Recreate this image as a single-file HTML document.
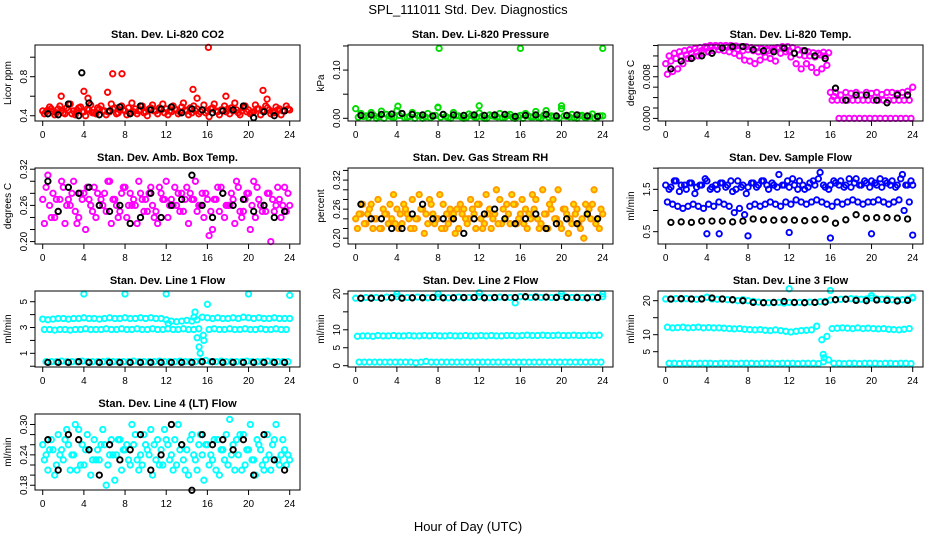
<!DOCTYPE html>
<html><head><meta charset="utf-8"><style>
body{margin:0;background:#fff}
svg{display:block;font-family:"Liberation Sans",sans-serif}
</style></head><body>
<svg id="chart" width="936" height="540" viewBox="0 0 936 540">
<rect width="936" height="540" fill="#fff"/>
<text x="468" y="14" text-anchor="middle" font-size="13">SPL_111011  Std. Dev. Diagnostics</text>
<text x="468" y="531" text-anchor="middle" font-size="13">Hour of Day (UTC)</text>
</svg>
<script>
const co2RedA=[0.45,0.46,0.44,0.47,0.43,0.46,0.45,0.48,0.44,0.46,0.43,0.47,0.45,0.44,0.48,0.46,0.45,0.43,0.47,0.46,0.44,0.48,0.45,0.46,0.47,0.44,0.46,0.49,0.45,0.43,0.47,0.46,0.45,0.48,0.44,0.46,0.47,0.45,0.43,0.48,0.46,0.44,0.47,0.45,0.46,0.43,0.47,0.45,0.46];
const co2RedB=[0.42,0.49,0.41,0.5,0.42,0.52,0.41,0.49,0.4,0.51,0.42,0.5,0.41,0.52,0.42,0.5,0.41,0.53,0.42,0.5,0.4,0.51,0.42,0.52,0.41,0.5,0.42,0.53,0.41,0.5,0.42,0.51,0.39,0.52,0.41,0.5,0.42,0.53,0.41,0.5,0.42,0.51,0.41,0.5,0.42,0.49,0.41,0.5,0.42];
const co2RedC=[0.44,0.47,0.43,0.45,0.48,0.42,0.46,0.44,0.47,0.43,0.48,0.45,0.44,0.47,0.43,0.46,0.48,0.44,0.45,0.43,0.47,0.45,0.48,0.43,0.45,0.47,0.44,0.46,0.48,0.45,0.44,0.43,0.47,0.45,0.46,0.44,0.48,0.46,0.45,0.44,0.43,0.47,0.45,0.48,0.44,0.46,0.45,0.47,0.44];
const co2RedOutX=[1.8,4.0,4.4,6.3,6.8,7.7,14.6,16.1,17.8,21.4,21.8,15];
const co2RedOutY=[0.6,0.65,0.58,0.64,0.83,0.83,0.67,1.1,0.6,0.66,0.57,0.58];
const co2Black=[0.42,0.41,0.52,0.40,0.53,0.41,0.45,0.49,0.42,0.50,0.46,0.47,0.49,0.43,0.47,0.46,0.43,0.45,0.46,0.50,0.38,0.44,0.40,0.45];
const co2BlackOutX=[3.8];const co2BlackOutY=[0.84];

const presGreenA=[0.02,0.01,0.005,0.012,0.0,0.015,0.008,0.003,0.016,0.01,0.002,0.012,0.006,0.0,0.01,0.004,0.022,0.008,0.001,0.012,0.005,0.0,0.009,0.003,0.011,0.0,0.007,0.004,0.01,0.002,0.008,0.0,0.006,0.01,0.003,0.014,0.0,0.016,0.005,0.001,0.02,0.004,0.008,0.0,0.006,0.003,0.009,0.002,0.005];
const presGreenB=[0.002,0.004,0.001,0.006,0.003,0.0,0.005,0.002,0.006,0.001,0.004,0.0,0.005,0.003,0.001,0.006,0.002,0.004,0.0,0.005,0.003,0.001,0.006,0.002,0.004,0.0,0.005,0.003,0.001,0.006,0.002,0.004,0.0,0.005,0.003,0.001,0.006,0.002,0.004,0.0,0.005,0.003,0.001,0.006,0.002,0.004,0.0,0.005,0.003];
const presOutX=[8.1,16,24,4.1,12,20,8];
const presOutY=[0.145,0.145,0.145,0.025,0.026,0.026,0.023];
const presBlack=[0.006,0.007,0.008,0.009,0.01,0.008,0.007,0.005,0.008,0.007,0.006,0.007,0.006,0.007,0.008,0.004,0.006,0.007,0.008,0.005,0.006,0.007,0.005,0.004];

const tempMagA=[0.0105,0.011,0.0115,0.012,0.0122,0.0125,0.0128,0.013,0.0135,0.0138,0.0138,0.0136,0.0137,0.0135,0.0133,0.013,0.0132,0.013,0.0128,0.0127,0.013,0.0132,0.0135,0.0134,0.013,0.0125,0.0122,0.012,0.012,0.0118,0.0122,0.012,0.005,0.005,0.0045,0.005,0.0048,0.005,0.0045,0.005,0.0048,0.005,0.0046,0.005,0.005,0.0048,0.005,0.0052,0.006];
const tempMagB=[0.0085,0.009,0.0095,0.0105,0.0115,0.0118,0.012,0.0125,0.0128,0.013,0.0132,0.013,0.0128,0.0125,0.012,0.0112,0.011,0.0105,0.0112,0.0118,0.0115,0.011,0.0125,0.0128,0.0118,0.0105,0.0095,0.0105,0.0098,0.0088,0.0095,0.0102,0.0035,0.0035,0.0035,0.0035,0.0035,0.0035,0.0035,0.0035,0.0035,0.0035,0.0035,0.0035,0.0035,0.0035,0.0035,0.0035,0.0035];
const tempMagC=[0.012,0.0125,0.0128,0.013,0.0132,0.0134,0.0136,0.0138,0.014,0.014,0.014,0.014,0.014,0.0139,0.0138,0.0138,0.0136,0.0135,0.0134,0.0133,0.0135,0.0136,0.0138,0.0138,0.0136,0.0132,0.013,0.0128,0.0126,0.0125,0.0127,0.0126,0.0042,0,0,0,0,0,0,0,0,0,0,0,0,0,0,0,0];
const tempBlack=[0.0095,0.011,0.0115,0.012,0.0125,0.0135,0.0138,0.0138,0.0132,0.013,0.0128,0.0135,0.0125,0.013,0.012,0.0115,0.0058,0.0035,0.0045,0.0045,0.0035,0.003,0.0045,0.0045];

const ambA=[0.27,0.31,0.28,0.25,0.29,0.27,0.30,0.24,0.28,0.27,0.29,0.26,0.28,0.30,0.27,0.25,0.29,0.28,0.26,0.28,0.27,0.29,0.25,0.28,0.30,0.27,0.26,0.28,0.29,0.27,0.25,0.28,0.27,0.22,0.29,0.28,0.26,0.27,0.29,0.25,0.28,0.30,0.27,0.26,0.28,0.25,0.27,0.29,0.26];
const ambB=[0.23,0.26,0.24,0.27,0.23,0.26,0.25,0.28,0.22,0.26,0.24,0.27,0.25,0.23,0.26,0.28,0.24,0.26,0.23,0.27,0.25,0.26,0.23,0.27,0.24,0.26,0.28,0.25,0.23,0.27,0.26,0.24,0.21,0.27,0.25,0.24,0.26,0.23,0.25,0.27,0.22,0.24,0.26,0.25,0.20,0.26,0.24,0.25,0.26];
const ambC=[0.29,0.24,0.27,0.30,0.26,0.28,0.23,0.27,0.29,0.25,0.28,0.26,0.30,0.27,0.24,0.29,0.26,0.27,0.30,0.25,0.28,0.24,0.29,0.27,0.26,0.29,0.25,0.27,0.28,0.30,0.26,0.28,0.25,0.27,0.29,0.26,0.28,0.30,0.24,0.28,0.26,0.29,0.25,0.28,0.27,0.29,0.26,0.28,0.27];
const ambBlack=[0.30,0.25,0.29,0.28,0.29,0.26,0.25,0.26,0.23,0.24,0.28,0.24,0.26,0.27,0.31,0.26,0.24,0.28,0.26,0.27,0.25,0.26,0.24,0.25];

const rhA=[0.24,0.25,0.23,0.27,0.24,0.22,0.25,0.24,0.26,0.23,0.25,0.28,0.24,0.26,0.23,0.25,0.24,0.27,0.23,0.25,0.22,0.26,0.24,0.25,0.27,0.23,0.26,0.25,0.28,0.24,0.23,0.27,0.25,0.26,0.24,0.28,0.23,0.25,0.26,0.24,0.22,0.25,0.23,0.26,0.24,0.25,0.27,0.24,0.25];
const rhB=[0.22,0.27,0.25,0.22,0.28,0.26,0.23,0.29,0.22,0.27,0.24,0.22,0.29,0.21,0.28,0.23,0.29,0.22,0.26,0.21,0.27,0.24,0.28,0.22,0.24,0.29,0.22,0.30,0.23,0.27,0.29,0.23,0.28,0.22,0.29,0.24,0.30,0.22,0.28,0.30,0.26,0.21,0.27,0.23,0.20,0.26,0.30,0.22,0.27];
const rhC=[0.25,0.23,0.26,0.24,0.22,0.25,0.27,0.23,0.25,0.26,0.22,0.24,0.26,0.25,0.27,0.24,0.22,0.25,0.24,0.26,0.25,0.23,0.26,0.27,0.22,0.25,0.24,0.23,0.26,0.25,0.27,0.24,0.23,0.25,0.26,0.22,0.25,0.27,0.24,0.23,0.26,0.24,0.25,0.22,0.27,0.24,0.23,0.26,0.24];
const rhBlack=[0.27,0.24,0.24,0.22,0.22,0.25,0.27,0.24,0.24,0.24,0.21,0.24,0.25,0.26,0.24,0.23,0.24,0.25,0.22,0.23,0.24,0.23,0.25,0.24];

const sfA=[1.6,1.55,1.7,1.6,1.5,1.65,1.55,1.6,1.7,1.55,1.5,1.65,1.6,1.45,1.7,1.6,1.55,1.65,1.6,1.7,1.5,1.6,1.85,1.6,1.55,1.6,1.7,1.5,1.65,1.6,1.9,1.55,1.6,1.65,1.7,1.6,1.55,1.75,1.6,1.65,1.7,1.6,1.55,1.65,1.7,1.6,1.85,1.6,1.6];
const sfB=[1.2,1.15,1.1,1.05,1.1,1.15,1.1,1.05,1.15,1.1,1.2,1.15,1.1,0.95,1.05,0.9,1.1,1.15,1.1,1.15,1.2,1.15,1.1,1.2,1.15,1.25,1.2,1.15,1.2,1.25,1.2,1.15,1.1,1.2,1.15,1.2,1.25,1.2,1.15,1.2,1.2,1.25,1.2,1.15,1.2,1.25,1.0,1.2,1.15];
const sfC=[1.5,1.7,1.45,1.6,1.65,1.4,1.6,1.75,1.5,1.6,1.65,1.55,1.7,1.5,1.55,1.4,1.65,1.55,1.7,1.6,1.65,1.55,1.6,1.7,1.75,1.5,1.6,1.55,1.7,1.75,1.6,1.5,1.7,1.6,1.55,1.75,1.65,1.6,1.7,1.55,1.65,1.75,1.7,1.6,1.55,1.75,1.6,1.7,1.65];
const sfOutX=[4,5.2,8,12,16,20,24];
const sfOutY=[0.45,0.45,0.4,0.48,0.35,0.45,0.42];
const sfBlack=[0.72,0.73,0.72,0.75,0.75,0.75,0.73,0.75,0.80,0.78,0.77,0.78,0.77,0.76,0.78,0.80,0.70,0.78,0.90,0.82,0.83,0.83,0.82,0.80];

const l1A=[3.65,3.6,3.65,3.7,3.7,3.65,3.7,3.7,3.75,3.7,3.7,3.65,3.7,3.75,3.7,3.7,3.75,3.7,3.7,3.75,3.7,3.75,3.7,3.7,3.6,3.5,3.45,3.5,3.55,3.5,3.6,3.8,3.75,3.7,3.75,3.7,3.7,3.75,3.7,3.8,3.75,3.7,3.75,3.7,3.7,3.75,3.7,3.7,3.7];
const l1B=[2.85,2.85,2.8,2.85,2.85,2.8,2.85,2.85,2.9,2.85,2.85,2.85,2.9,2.85,2.85,2.9,2.85,2.85,2.9,2.85,2.85,2.9,2.85,2.85,2.9,2.85,2.85,2.9,2.85,2.85,2.9,2.0,2.85,2.9,2.85,2.85,2.9,2.85,2.85,2.9,2.85,2.85,2.9,2.85,2.85,2.9,2.85,2.85,2.85];
const l1C=[0.35,0.35,0.35,0.4,0.35,0.35,0.35,0.4,0.35,0.35,0.35,0.35,0.4,0.35,0.35,0.35,0.35,0.4,0.35,0.35,0.35,0.35,0.4,0.35,0.35,0.35,0.4,0.35,0.35,0.35,0.4,0.45,0.35,0.35,0.4,0.35,0.35,0.35,0.35,0.4,0.35,0.35,0.35,0.4,0.35,0.35,0.35,0.35,0.35];
const l1OutX=[4,8,12,20,24,16,14.8,15.2,15.3,15,15.6,12.2,14.7];
const l1OutY=[5.6,5.6,5.6,5.6,5.5,4.8,4.2,1.5,1.0,2.2,2.4,3.3,3.8];
const l1Black=[0.3,0.3,0.3,0.35,0.3,0.3,0.3,0.3,0.3,0.3,0.3,0.3,0.3,0.3,0.3,0.35,0.35,0.3,0.3,0.3,0.3,0.3,0.3,0.3];

const l2A=[18.8,18.7,19.0,18.9,19.0,18.8,19.1,19.0,19.2,18.9,19.0,18.9,19.1,19.0,18.9,19.0,19.1,19.0,18.9,19.0,19.1,18.9,19.0,19.0,19.2,19.0,18.9,19.0,19.1,19.0,19.0,17.5,19.2,19.1,19.0,19.2,19.0,19.1,19.0,19.1,19.3,19.1,19.0,19.1,19.0,19.0,19.1,19.0,19.2];
const l2B=[8.2,8.3,8.3,8.2,8.4,8.3,8.3,8.4,8.3,8.3,8.4,8.3,8.3,8.4,8.3,8.4,8.3,8.3,8.4,8.3,8.3,8.4,8.3,8.3,8.4,8.3,8.4,8.3,8.3,8.4,8.4,8.3,8.4,8.5,8.4,8.4,8.5,8.4,8.4,8.5,8.4,8.4,8.5,8.4,8.4,8.5,8.4,8.5,8.6];
const l2C=[1.0,1.0,1.0,1.0,1.0,1.0,1.0,1.0,1.0,1.0,1.0,0.8,1.0,1.2,1.0,1.0,1.0,1.0,1.0,1.0,1.0,1.0,1.0,1.0,1.0,1.0,1.0,1.0,1.0,1.0,1.0,1.0,1.0,1.0,1.0,1.0,1.0,1.0,1.0,1.0,1.0,1.0,1.0,1.0,1.0,1.0,1.0,1.0,1.0];
const l2OutX=[4,8,12,20,24];
const l2OutY=[20,20,20.3,20,20];
const l2Black=[18.8,18.8,18.8,18.9,18.8,18.9,18.9,19.0,18.9,18.9,19.0,19.0,18.9,19.0,19.0,19.0,19.2,19.1,19.1,19.0,19.0,19.0,18.9,19.0];

const l3A=[20.5,20.4,20.6,20.5,20.6,20.5,20.4,20.6,21.0,20.5,20.4,20.5,20.3,20.2,20.0,20.3,20.0,19.8,19.6,19.5,19.4,19.4,19.5,19.3,19.5,19.4,19.5,19.5,19.6,19.5,19.7,19.8,20.2,20.3,20.4,20.5,20.6,20.5,20.4,20.5,20.8,20.5,20.4,20.5,20.3,20.2,20.3,20.4,20.8];
const l3B=[12.2,12.0,12.1,12.2,12.0,12.1,12.2,12.0,12.1,12.0,12.0,11.9,11.8,11.7,11.8,11.6,11.5,11.4,11.5,11.3,11.2,11.4,11.2,11.0,10.8,11.0,11.2,11.3,11.4,12.5,8.5,9.5,11.8,11.9,12.0,11.9,11.8,12.0,11.8,11.9,11.8,11.7,11.8,11.6,11.5,11.4,11.6,11.8,11.8];
const l3C=[1.6,1.6,1.5,1.6,1.6,1.5,1.6,1.6,1.6,1.5,1.6,1.6,1.6,1.5,1.6,1.6,1.6,1.5,1.6,1.6,1.6,1.5,1.6,1.6,1.6,1.5,1.6,1.6,1.6,1.5,2.0,2.6,1.6,1.6,1.5,1.6,1.6,1.5,1.6,1.6,1.6,1.5,1.6,1.6,1.5,1.6,1.6,1.5,1.6];
const l3OutX=[12,16,20,4,24,15.3,15.4];
const l3OutY=[23.5,23,21.5,21,21,4.2,3.2];
const l3Black=[20.5,20.6,20.5,20.5,20.8,20.5,20.3,20.0,19.5,19.4,19.5,19.8,19.5,19.4,19.5,19.6,20.3,20.4,20.1,20.0,20.2,20.1,19.9,20.1];

const l4A=[0.26,0.21,0.25,0.28,0.23,0.26,0.24,0.29,0.22,0.25,0.27,0.23,0.26,0.24,0.19,0.27,0.25,0.22,0.28,0.24,0.26,0.29,0.23,0.25,0.27,0.24,0.22,0.26,0.25,0.28,0.21,0.24,0.26,0.23,0.27,0.25,0.22,0.26,0.24,0.28,0.25,0.23,0.26,0.21,0.24,0.27,0.22,0.25,0.23];
const l4B=[0.23,0.25,0.20,0.24,0.27,0.21,0.30,0.22,0.25,0.20,0.23,0.26,0.18,0.27,0.24,0.21,0.26,0.30,0.23,0.22,0.25,0.20,0.27,0.22,0.26,0.21,0.30,0.23,0.20,0.24,0.26,0.19,0.22,0.27,0.20,0.23,0.31,0.21,0.28,0.22,0.30,0.20,0.25,0.23,0.21,0.30,0.24,0.22,0.20];
const l4C=[0.24,0.27,0.22,0.25,0.29,0.24,0.21,0.26,0.28,0.23,0.25,0.29,0.22,0.24,0.27,0.25,0.23,0.26,0.21,0.28,0.24,0.26,0.22,0.29,0.23,0.27,0.25,0.21,0.27,0.23,0.28,0.26,0.24,0.21,0.25,0.28,0.24,0.27,0.21,0.25,0.23,0.27,0.22,0.28,0.26,0.23,0.27,0.24,0.26];
const l4Black=[0.27,0.21,0.28,0.27,0.25,0.20,0.26,0.23,0.25,0.28,0.21,0.24,0.30,0.26,0.17,0.28,0.26,0.27,0.25,0.27,0.20,0.28,0.23,0.21];

const xTicks=[0,4,8,12,16,20,24];
const colLeft=[35,348,658], rowTop=[45,168,291,414], boxW=265, boxH=76;
const xMin=-0.75, xMax=25.0;

const panels=[
 {name:'co2',title:'Stan. Dev. Li-820 CO2',ylab:'Licor ppm',c:0,r:0,y:[0.346,1.125],ticks:[0.4,0.6,0.8,1.0],labels:[0.4,0.8],fmt:1,color:'#ff0000',main:[co2RedA,co2RedB,co2RedC],ox:co2RedOutX,oy:co2RedOutY,black:co2Black,bx:co2BlackOutX,by:co2BlackOutY},
 {name:'pressure',title:'Stan. Dev. Li-820 Pressure',ylab:'kPa',c:1,r:0,y:[-0.0056,0.152],ticks:[0,0.05,0.1,0.15],labels:[0,0.1],fmt:2,color:'#00dd00',main:[presGreenA,presGreenB],ox:presOutX,oy:presOutY,black:presBlack},
 {name:'temp',title:'Stan. Dev. Li-820 Temp.',ylab:'degrees C',c:2,r:0,y:[-0.0005,0.0141],ticks:[0,0.002,0.004,0.006,0.008,0.01,0.012,0.014],labels:[0,0.008],fmt:3,color:'#ff00ff',main:[tempMagA,tempMagB,tempMagC],black:tempBlack},
 {name:'amb-box-temp',title:'Stan. Dev. Amb. Box Temp.',ylab:'degrees C',c:0,r:1,y:[0.196,0.322],ticks:[0.2,0.22,0.24,0.26,0.28,0.3,0.32],labels:[0.2,0.26,0.32],fmt:2,color:'#ff00ff',main:[ambA,ambB,ambC],black:ambBlack},
 {name:'gas-rh',title:'Stan. Dev. Gas Stream RH',ylab:'percent',c:1,r:1,y:[0.188,0.345],ticks:[0.2,0.22,0.24,0.26,0.28,0.3,0.32,0.34],labels:[0.2,0.26,0.32],fmt:2,color:'#ff9900',fill:'#ffdd00',main:[rhA,rhB,rhC],black:rhBlack},
 {name:'sample-flow',title:'Stan. Dev. Sample Flow',ylab:'ml/min',c:2,r:1,y:[0.209,2.004],ticks:[0.5,1.0,1.5,2.0],labels:[0.5,1.5],fmt:1,color:'#0000ff',main:[sfA,sfB,sfC],ox:sfOutX,oy:sfOutY,black:sfBlack},
 {name:'line1-flow',title:'Stan. Dev. Line 1 Flow',ylab:'ml/min',c:0,r:2,y:[-0.06,5.83],ticks:[0,1,2,3,4,5],labels:[1,3,5],fmt:0,color:'#00ffff',main:[l1A,l1B,l1C],ox:l1OutX,oy:l1OutY,black:l1Black},
 {name:'line2-flow',title:'Stan. Dev. Line 2 Flow',ylab:'ml/min',c:1,r:2,y:[-0.36,20.8],ticks:[0,5,10,15,20],labels:[0,5,10,20],fmt:0,color:'#00ffff',main:[l2A,l2B,l2C],ox:l2OutX,oy:l2OutY,black:l2Black},
 {name:'line3-flow',title:'Stan. Dev. Line 3 Flow',ylab:'ml/min',c:2,r:2,y:[0.5,22.85],ticks:[5,10,15,20],labels:[5,10,20],fmt:0,color:'#00ffff',main:[l3A,l3B,l3C],ox:l3OutX,oy:l3OutY,black:l3Black},
 {name:'line4-flow',title:'Stan. Dev. Line 4 (LT) Flow',ylab:'ml/min',c:0,r:3,y:[0.1706,0.3207],ticks:[0.18,0.2,0.22,0.24,0.26,0.28,0.3],labels:[0.18,0.24,0.3],fmt:2,color:'#00ffff',main:[l4A,l4B,l4C],black:l4Black}
];

const NS='http://www.w3.org/2000/svg';
const svg=document.getElementById('chart');
function mk(tag,attrs,parent){const e=document.createElementNS(NS,tag);for(const k in attrs)e.setAttribute(k,attrs[k]);parent.appendChild(e);return e;}

panels.forEach(p=>{
  const L=colLeft[p.c], T=rowTop[p.r];
  const sx=v=>L+(v-xMin)/(xMax-xMin)*boxW;
  const sy=v=>T+boxH-(v-p.y[0])/(p.y[1]-p.y[0])*boxH;
  const g=mk('g',{},svg);
  
  
  const t=mk('text',{x:L+boxW/2,y:T-7,'text-anchor':'middle','font-size':'11','font-weight':'bold'},g);
  t.textContent=p.title;
  
  
  const yl=mk('text',{transform:`translate(${L-24},${T+boxH/2}) rotate(-90)`,'text-anchor':'middle','font-size':'10'},g);
  yl.textContent=p.ylab;
  
  
  const pts=mk('g',{fill:p.fill||'none','stroke-width':'1.9'},g);
  
  
  function dot(x,y,col,fill){
    const c=mk('circle',{cx:sx(x).toFixed(1),cy:sy(y).toFixed(1),r:'2.7',stroke:col},pts);
    if(fill)c.setAttribute('fill',fill);
    
    
  }
  const n=p.main.length;
  p.main.forEach((arr,k)=>arr.forEach((v,i)=>{const x=i*0.5+k*0.5/n;if(x<=24.1)dot(x,v,p.color);}));
  if(p.ox)p.ox.forEach((x,i)=>dot(x,p.oy[i],p.color));
  p.black.forEach((v,i)=>dot(0.5+i,v,'#000','none'));
  if(p.bx)p.bx.forEach((x,i)=>dot(x,p.by[i],'#000','none'));
  const b=mk('rect',{x:L,y:T,width:boxW,height:boxH,fill:'none',stroke:'#000','stroke-width':'1'},g);
  
  
  const xa=mk('g',{stroke:'#000','stroke-width':'1'},g);
  
  
  mk('line',{x1:sx(0),x2:sx(24),y1:T+boxH,y2:T+boxH},xa);
  xTicks.forEach(v=>{
    mk('line',{x1:sx(v),x2:sx(v),y1:T+boxH,y2:T+boxH+5},xa);
    const tl=mk('text',{x:sx(v),y:T+boxH+17,'text-anchor':'middle','font-size':'10',stroke:'none',fill:'#000'},xa);
    tl.textContent=v;
    
    
  });
  const ya=mk('g',{stroke:'#000','stroke-width':'1'},g);
  
  
  mk('line',{x1:L,x2:L,y1:sy(p.ticks[0]),y2:sy(p.ticks[p.ticks.length-1])},ya);
  p.ticks.forEach(v=>mk('line',{x1:L-5,x2:L,y1:sy(v),y2:sy(v)},ya));
  p.labels.forEach(v=>{
    const tl=mk('text',{transform:`translate(${L-8},${sy(v)}) rotate(-90)`,'text-anchor':'middle','font-size':'10',stroke:'none',fill:'#000'},ya);
    tl.textContent=v.toFixed(p.fmt);
    
    
  });
});
</script>
</body></html>
